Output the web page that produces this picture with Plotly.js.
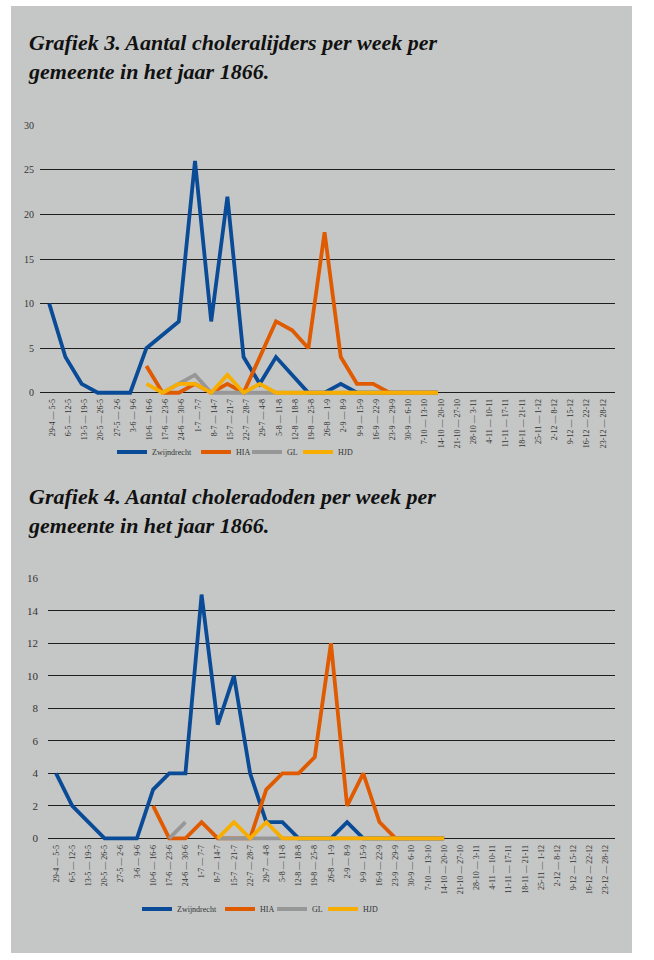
<!DOCTYPE html>
<html>
<head>
<meta charset="utf-8">
<script src="https://cdn.plot.ly/plotly-3.0.1.min.js"></script>
<style>
  html, body { margin: 0; padding: 0; background: #ffffff; }
  #panel { position: absolute; left: 11px; top: 6px; width: 621px; height: 947px; background: #c5c7c6; }
  #chart { position: absolute; left: 0; top: 0; width: 654px; height: 960px; }
</style>
</head>
<body>
<div id="panel"></div>
<div id="chart"></div>
<script>
// Week categories (x-axis tick labels)
const weeks = [
  "29-4 — 5-5", "6-5 — 12-5", "13-5 — 19-5", "20-5 — 26-5", "27-5 — 2-6",
  "3-6 — 9-6", "10-6 — 16-6", "17-6 — 23-6", "24-6 — 30-6", "1-7 — 7-7",
  "8-7 — 14-7", "15-7 — 21-7", "22-7 — 28-7", "29-7 — 4-8", "5-8 — 11-8",
  "12-8 — 18-8", "19-8 — 25-8", "26-8 — 1-9", "2-9 — 8-9", "9-9 — 15-9",
  "16-9 — 22-9", "23-9 — 29-9", "30-9 — 6-10", "7-10 — 13-10", "14-10 — 20-10",
  "21-10 — 27-10", "28-10 — 3-11", "4-11 — 10-11", "11-11 — 17-11", "18-11 — 21-11",
  "25-11 — 1-12", "2-12 — 8-12", "9-12 — 15-12", "16-12 — 22-12", "23-12 — 28-12"
];

const seriesNames = ["Zwijndrecht", "HIA", "GL", "HJD"];

// Grafiek 3: choleralijders (patients) per week
const g3Zwijndrecht = [10, 4, 1, 0, 0, 0, 5, 6.5, 8, 26, 8, 22, 4, 1, 4, 2, 0, 0, 1, 0, 0, 0, 0, 0, 0];
const g3HIA = [null, null, null, null, null, null, 3, 0, 0, 1, 0, 1, 0, 4, 8, 7, 5, 18, 4, 1, 1, 0, 0, 0, 0];
const g3GL  = [null, null, null, null, null, null, null, 0, 1, 2, 0, 0, 0, 0, 0, 0, 0, 0, 0, 0, 0, 0, 0, 0, 0];
const g3HJD = [null, null, null, null, null, null, 1, 0, 1, 1, 0, 2, 0, 1, 0, 0, 0, 0, 0, 0, 0, 0, 0, 0, 0];

// Grafiek 4: choleradoden (deaths) per week
const g4Zwijndrecht = [4, 2, 1, 0, 0, 0, 3, 4, 4, 15, 7, 10, 4, 1, 1, 0, 0, 0, 1, 0, 0, 0, 0, 0, 0];
const g4HIA = [null, null, null, null, null, null, 2, 0, 0, 1, 0, 0, 0, 3, 4, 4, 5, 12, 2, 4, 1, 0, 0, 0, 0];
const g4GL  = [null, null, null, null, null, null, null, 0, 1, null, 0, 0, 0, 0, 0, 0, 0, 0, 0, 0, 0, 0, 0, 0, 0];
const g4HJD = [null, null, null, null, null, null, null, null, null, null, 0, 1, 0, 1, 0, 0, 0, 0, 0, 0, 0, 0, 0, 0, 0];

const title3 = "Grafiek 3. Aantal choleralijders per week per<br>gemeente in het jaar 1866.";
const title4 = "Grafiek 4. Aantal choleradoden per week per<br>gemeente in het jaar 1866.";

const colors = ["#0a4b97", "#e05a00", "#979797", "#f7ae00"];
const W = 654, H = 960;
const serif = "'Liberation Serif', 'Times New Roman', serif";

function mk(vals, idx, xa, ya, legend) {
  return {
    type: "scatter", mode: "lines",
    x: weeks.slice(0, vals.length), y: vals,
    name: seriesNames[idx],
    line: { color: colors[idx], width: 3.8, shape: "linear" },
    connectgaps: false,
    xaxis: xa, yaxis: ya, legend: legend,
    hoverinfo: "skip"
  };
}

const traces = [
  mk(g3Zwijndrecht, 0, "x", "y", "legend"),
  mk(g3HIA, 1, "x", "y", "legend2"),
  mk(g3GL, 2, "x", "y", "legend3"),
  mk(g3HJD, 3, "x", "y", "legend4"),
  mk(g4Zwijndrecht, 0, "x2", "y2", "legend5"),
  mk(g4HIA, 1, "x2", "y2", "legend6"),
  mk(g4GL, 2, "x2", "y2", "legend7"),
  mk(g4HJD, 3, "x2", "y2", "legend8")
];

// pixel helpers for domains
function px(v) { return v / W; }
function py(v) { return 1 - v / H; }

const xCommon = {
  type: "category", categoryorder: "array", categoryarray: weeks,
  showgrid: false, zeroline: false, showline: false, ticks: "",
  tickangle: -90, tickfont: { family: serif, size: 8, color: "#333" },
  fixedrange: true
};
const yCommon = {
  showgrid: true, gridcolor: "#1e1e1e", gridwidth: 1,
  zeroline: false, showline: false, ticks: "",
  tickfont: { family: serif, size: 10, color: "#333" },
  fixedrange: true
};

// legend positioned by where its label text starts
function leg(xTextStart, yc) {
  return {
    orientation: "h", x: px(xTextStart - 39), xanchor: "left", y: py(yc), yanchor: "middle",
    font: { family: serif, size: 8, color: "#333" },
    bgcolor: "rgba(0,0,0,0)", borderwidth: 0, itemwidth: 30
  };
}

const layout = {
  width: W, height: H,
  margin: { l: 0, r: 0, t: 0, b: 0 },
  paper_bgcolor: "rgba(0,0,0,0)",
  plot_bgcolor: "rgba(0,0,0,0)",
  showlegend: true,
  xaxis: Object.assign({}, xCommon, {
    domain: [px(40), px(615)], range: [-0.57, 34.93], anchor: "y", ticklabelshift: 3
  }),
  yaxis: Object.assign({}, yCommon, {
    domain: [py(396.3), py(125.3)], range: [-0.4, 30], tick0: 0, dtick: 5, anchor: "x",
    ticklabelstandoff: 5
  }),
  xaxis2: Object.assign({}, xCommon, {
    domain: [px(48), px(615)], range: [-0.5, 34.57], anchor: "y2"
  }),
  yaxis2: Object.assign({}, yCommon, {
    domain: [py(842.4), py(578.3)], range: [-0.25, 16], tick0: 0, dtick: 2, anchor: "x2",
    tickfont: { family: serif, size: 11, color: "#333" },
    ticklabelstandoff: 9
  }),
  legend: leg(151, 452),
  legend2: leg(235, 452),
  legend3: leg(286, 452),
  legend4: leg(337, 452),
  legend5: leg(176, 909),
  legend6: leg(259, 909),
  legend7: leg(311, 909),
  legend8: leg(362, 909),
  annotations: [
    {
      xref: "paper", yref: "paper", x: px(26), y: py(57), xanchor: "left", yanchor: "middle",
      text: "<b><i>" + title3 + "</i></b>", showarrow: false, align: "left",
      font: { family: serif, size: 22, color: "#111" }
    },
    {
      xref: "paper", yref: "paper", x: px(26), y: py(511), xanchor: "left", yanchor: "middle",
      text: "<b><i>" + title4 + "</i></b>", showarrow: false, align: "left",
      font: { family: serif, size: 22, color: "#111" }
    }
  ]
};

Plotly.newPlot("chart", traces, layout, { displayModeBar: false, staticPlot: true });
</script>
</body>
</html>
